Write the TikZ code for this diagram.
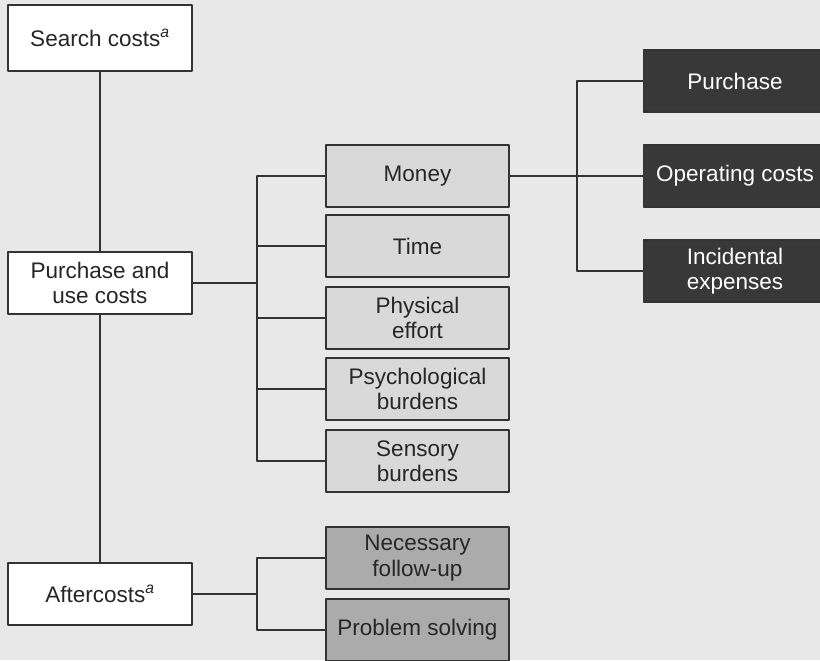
\documentclass[tikz,border=0pt]{standalone}
\usepackage{fontspec}
\setmainfont{Liberation Sans}
\definecolor{paper}{gray}{0.91}
\begin{document}
\begin{tikzpicture}[x=0.025cm, y=-0.025cm, line join=round, line cap=round,
  font=\fontsize{16}{18}\selectfont,
  box/.style={draw=black!80, line width=1pt, minimum width=4.575cm, minimum height=1.55cm, align=center, inner sep=2pt, text=black!85},
  whitebox/.style={box, fill=white, minimum width=4.6cm},
  lightbox/.style={box, fill=black!15},
  midbox/.style={box, fill=black!33},
  darkbox/.style={box, fill=black!78, text=white}]
\def\sup{\textsuperscript{\textit{a}}}
\fill[paper] (0,0) rectangle (820,660);
\useasboundingbox (0,0) rectangle (820,660);
\clip (0,0) rectangle (820,660);
% cost groups
\node[whitebox, minimum height=1.65cm] (search) at (100,38) {Search costs\sup};
\node[whitebox] (puc) at (100,283) {Purchase and\\use costs};
\node[whitebox] (after) at (100,594) {Aftercosts\sup};
% purchase and use
\node[lightbox] (money) at (417.5,176) {Money};
\node[lightbox] (time) at (417.5,246) {Time};
\node[lightbox] (phys) at (417.5,318) {Physical\\effort};
\node[lightbox] (psych) at (417.5,389) {Psychological\\burdens};
\node[lightbox] (sens) at (417.5,461) {Sensory\\burdens};
% aftercosts
\node[midbox] (nec) at (417.5,558) {Necessary\\follow-up};
\node[midbox] (prob) at (417.5,630) {Problem solving};
% money
\node[darkbox] (purch) at (735,81) {Purchase};
\node[darkbox] (oper) at (735,176) {Operating costs};
\node[darkbox] (inc) at (735,271) {Incidental\\expenses};
\coordinate (j1) at (257,283);
\coordinate (j2) at (257,594);
\coordinate (j3) at (577,176);
\begin{scope}[line width=1pt, draw=black!80]
\draw (search.south)--(puc.north) (puc.south)--(after.north);
\draw (puc.east)--(j1);
\draw (money.west -| j1)--(sens.west -| j1);
\foreach \n in {money,time,phys,psych,sens} \draw (\n.west)--(\n.west -| j1);
\draw (after.east)--(j2);
\draw (nec.west) -| (j2) |- (prob.west);
\draw (money.east)--(j3);
\draw (purch.west) -| (j3) |- (inc.west);
\draw (oper.west)--(j3);
\end{scope}
\end{tikzpicture}
\end{document}
